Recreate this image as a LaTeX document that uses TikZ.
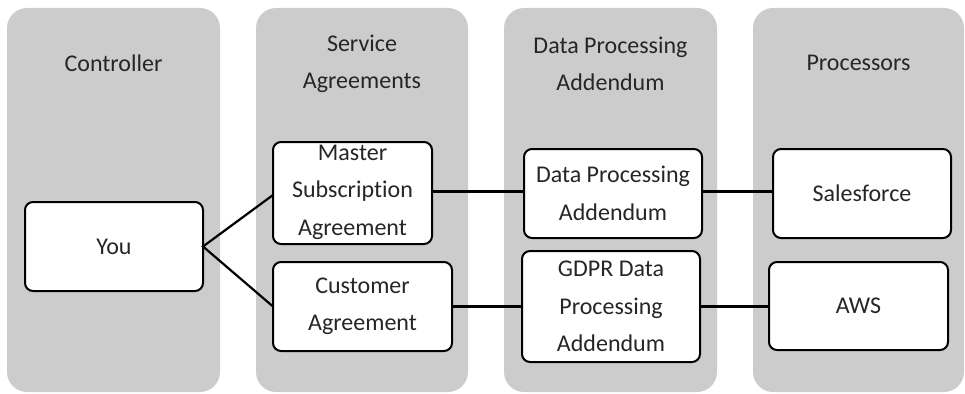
\documentclass[tikz,border=0pt]{standalone}
\usepackage{fontspec}
\setmainfont[Ligatures=NoCommon]{Carlito}
\definecolor{lanegray}{RGB}{204,204,204}
\begin{document}
\begin{tikzpicture}[x=1pt,y=-1pt,
  lane/.style={fill=lanegray,draw=none,rounded corners=20pt},
  box/.style={draw=black,line width=2pt,fill=white,rounded corners=8pt},
  txt/.style={inner sep=0pt,align=center,text=black!85,font=\fontsize{24}{37.5}\selectfont},
  link/.style={draw=black,line width=2.2pt}]
\useasboundingbox (0,0) rectangle (965,393);
% lanes
\path[lane] (7,8) rectangle (220,392);
\path[lane] (256,8) rectangle (468,392);
\path[lane] (504,8) rectangle (717,392);
\path[lane] (753,8) rectangle (964,392);
% headers
\node[txt] (h1) at (113.5,63) {Controller};
\node[txt] (h2) at (362,64) {Service\\Agreements};
\node[txt] (h3) at (610.5,64) {Data Processing\\Addendum};
\node[txt] (h4) at (858.5,63) {Processors};
% boxes
\draw[box] (25,202) rectangle (203,291);
\node[txt] (you) at (114,246.5) {You};
\coordinate (youE) at (203,246.5);
\draw[box] (273,142) rectangle (432,244);
\node[txt] (msa) at (352.5,192) {Master\\Subscript\kern0pt ion\\Agreement};
\coordinate (msaW) at (273,195);
\coordinate (msaE) at (432,191.5);
\draw[box] (273,262) rectangle (452,351);
\node[txt] (ca) at (362.5,306.5) {Customer\\Agreement};
\coordinate (caW) at (273,306.5);
\coordinate (caE) at (452,306.5);
\draw[box] (524,149) rectangle (702,238);
\node[txt] (dpa) at (613,193.5) {Data Processing\\Addendum};
\coordinate (dpaW) at (524,191.5);
\coordinate (dpaE) at (702,191.5);
\draw[box] (522,251) rectangle (700,362);
\node[txt] (gdpr) at (611,306.5) {GDPR Data\\Processing\\Addendum};
\coordinate (gdprW) at (522,306.5);
\coordinate (gdprE) at (700,306.5);
\draw[box] (773,149) rectangle (951,238);
\node[txt] (sf) at (862,193.5) {Salesforce};
\coordinate (sfW) at (773,191.5);
\draw[box] (769,262) rectangle (948,350);
\node[txt] (aws) at (858.5,306) {AWS};
\coordinate (awsW) at (769,306.5);
% links
\draw[link] (msaW) -- (youE) -- (caW);
\draw[link] (msaE) -- (dpaW);
\draw[link] (dpaE) -- (sfW);
\draw[link] (caE) -- (gdprW);
\draw[link] (gdprE) -- (awsW);
\end{tikzpicture}
\end{document}
